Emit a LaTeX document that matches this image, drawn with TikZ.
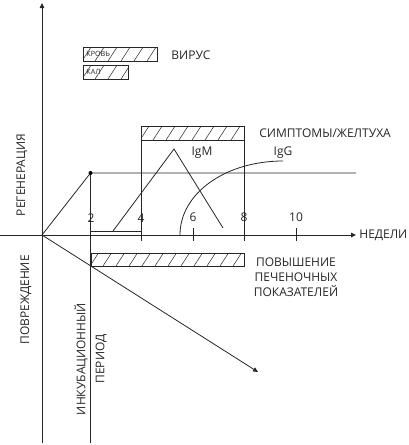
\documentclass[tikz,border=0pt]{standalone}
\usepackage{fontspec}
\setmainfont{Open Sans}
\usetikzlibrary{arrows.meta}
\newcommand\hatchbar[4]{%
  \begin{scope}
    \clip (#1,#2) rectangle (#3,#4);
    \foreach \i in {0,...,20}{
      \draw[line width=0.5pt] ({#1-14+13*\i},#4) -- ({#1-14+13*\i+0.65*(#4-#2)},#2);
    }
  \end{scope}
  \draw (#1,#2) rectangle (#3,#4);
}
\begin{document}
\begin{tikzpicture}[x=1pt,y=-1pt,line width=0.8pt,draw=black!85,
  lbl/.style={font=\fontsize{12}{15}\selectfont,inner sep=0pt,text=black!85},
  tiny/.style={font=\fontsize{7.2}{9}\selectfont,inner sep=0pt,text=black!85},
  arr/.style={-{Triangle[length=5pt,width=4.5pt]}}]
\useasboundingbox (0,0) rectangle (408,445);
% key points
\coordinate (O) at (42,235);
\coordinate (Ytop) at (42,3);
\coordinate (Ybot) at (42,443);
\coordinate (Xl) at (0,235);
\coordinate (Xr) at (356,235);
\coordinate (D) at (90.5,173);
\coordinate (Dr) at (356,173);
\coordinate (Vb) at (90.5,443);
\coordinate (A) at (258,372);
\coordinate (B2) at (90.5,231);
\coordinate (B4) at (141,231);
\coordinate (S4t) at (141,140);
\coordinate (S4b) at (141,241);
\coordinate (S8t) at (244,140);
\coordinate (S8b) at (244,241);
\coordinate (T6t) at (193,228);
\coordinate (T6b) at (193,241);
\coordinate (T10t) at (296,228);
\coordinate (T10b) at (296,241);
\coordinate (M1) at (113,231);
\coordinate (M2) at (174,149);
\coordinate (M3) at (223,228);
\coordinate (G1) at (180,235);
\coordinate (G2) at (283,161);
% axes
\draw[arr] (Ybot) -- (Ytop);
\draw[arr] (Xl) -- (Xr);
% incubation lines
\draw (O) -- (D) -- (Dr);
\draw (D) -- (Vb);
\draw[arr] (O) -- (A);
\fill[black] (D) circle (2pt);
% bracket 2-4 and ticks
\draw (B2) -- (B4);
\draw (S4t) -- (S4b);
\draw (S8t) -- (S8b);
\draw (T6t) -- (T6b);
\draw (T10t) -- (T10b);
% hatched bars
\hatchbar{83}{47}{157}{61}
\hatchbar{83}{65}{128}{79}
\hatchbar{141}{126}{244}{140}
\hatchbar{91}{253}{244}{266}
% IgM, IgG
\draw (M1) -- (M2) -- (M3);
\draw (G1) .. controls (180,193) and (226,161) .. (G2);
% labels
\node[tiny,anchor=west] (krov) at (86,54) {КРОВЬ};
\node[tiny,anchor=west] (kal) at (86,72) {КАЛ};
\node[lbl,anchor=west] (virus) at (171,55) {ВИРУС};
\node[lbl,anchor=west] (sympt) at (259,133) {СИМПТОМЫ/ЖЕЛТУХА};
\node[lbl] (igm) at (202,153) {IgM};
\node[lbl] (igg) at (283,153) {IgG};
\node[lbl] (n2) at (91,218) {2};
\node[lbl] (n4) at (141,218) {4};
\node[lbl] (n6) at (193,217) {6};
\node[lbl] (n8) at (244,217) {8};
\node[lbl] (n10) at (296,217) {10};
\node[lbl,anchor=west] (ned) at (359,235) {НЕДЕЛИ};
\node[lbl,align=center] (liver) at (296,277) {ПОВЫШЕНИЕ\\ПЕЧЕНОЧНЫХ\\ПОКАЗАТЕЛЕЙ};
\node[lbl,rotate=90] (reg) at (22,175) {РЕГЕНЕРАЦИЯ};
\node[lbl,rotate=90] (povr) at (26,300) {ПОВРЕЖДЕНИЕ};
\node[lbl,rotate=90,align=center] (inc) at (90.5,359) {ИНКУБАЦИОННЫЙ\\[4pt]ПЕРИОД};
\end{tikzpicture}
\end{document}
